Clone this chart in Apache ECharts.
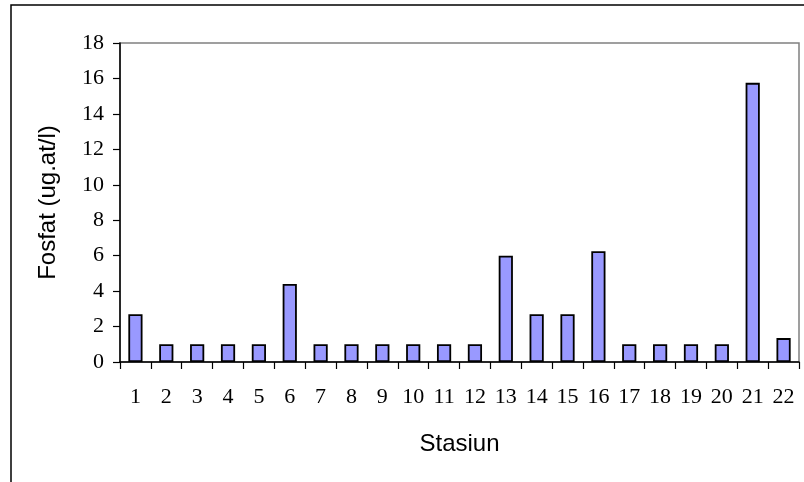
<!DOCTYPE html>
<html><head><meta charset="utf-8">
<script src="https://cdn.jsdelivr.net/npm/echarts@6/dist/echarts.min.js"></script>
<style>html,body{margin:0;padding:0;background:#fff}#c{width:804px;height:482px}</style>
</head><body><div id="c"></div>
<script>
const categories = ['1','2','3','4','5','6','7','8','9','10','11','12','13','14','15','16','17','18','19','20','21','22'];
const fosfat = [2.7,1,1,1,1,4.4,1,1,1,1,1,1,6.0,2.7,2.7,6.25,1,1,1,1,15.75,1.35];
const yTicks = {min:0, max:18, interval:2};

const chart = echarts.init(document.getElementById('c'), null, {renderer:'canvas'});
chart.setOption({
  animation:false,
  backgroundColor:'#fff',
  graphic:[{type:'rect', shape:{x:11,y:5,width:820,height:520}, style:{fill:'none',stroke:'#000',lineWidth:1.5}, z:-1}],
  grid:{left:120, top:43, right:5, bottom:120, show:true, borderColor:'#808080', borderWidth:1.5, backgroundColor:'transparent'},
  xAxis:{type:'category', data:categories,
    name:'Stasiun', nameLocation:'middle', nameGap:70,
    nameTextStyle:{fontFamily:'Liberation Sans, Arial', fontSize:24, color:'#000'},
    axisLine:{lineStyle:{color:'#000', width:1.5}},
    axisTick:{show:true, length:7, lineStyle:{color:'#000', width:1.2}},
    axisLabel:{margin:24, fontFamily:'Liberation Serif, Times New Roman', fontSize:22, color:'#000', interval:0}
  },
  yAxis:{type:'value', min:yTicks.min, max:yTicks.max, interval:yTicks.interval,
    name:'Fosfat (ug.at/l)', nameLocation:'middle', nameGap:60, nameRotate:90,
    nameTextStyle:{fontFamily:'Liberation Sans, Arial', fontSize:24, color:'#000'},
    axisLine:{show:true, lineStyle:{color:'#000', width:1.5}},
    axisTick:{show:true, length:7, lineStyle:{color:'#000', width:1.2}},
    splitLine:{show:false},
    axisLabel:{margin:16, fontFamily:'Liberation Serif, Times New Roman', fontSize:22, color:'#000'}
  },
  series:[{type:'bar', data:fosfat, barWidth:'46%',
    itemStyle:{color:'#9999FF', borderColor:'#000', borderWidth:1.8}}]
});
</script></body></html>
